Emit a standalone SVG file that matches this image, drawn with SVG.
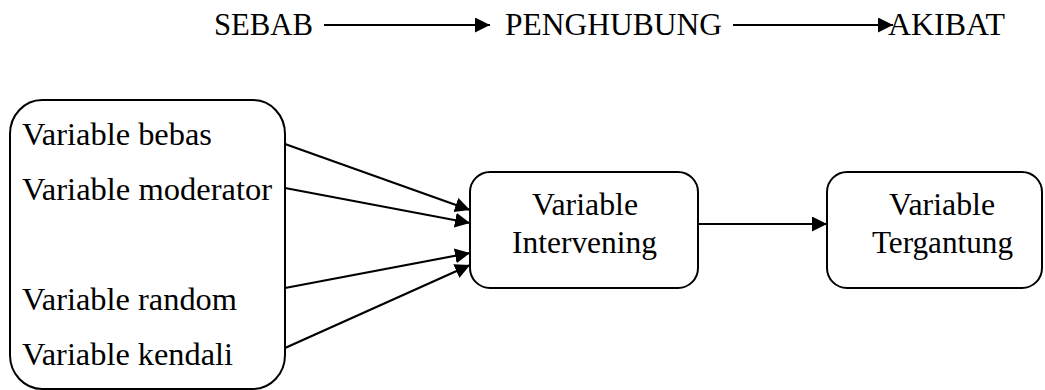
<svg xmlns="http://www.w3.org/2000/svg" width="1045" height="390" viewBox="0 0 1045 390">
<defs>
<style>
.t{font-family:'Liberation Serif','Times New Roman','DejaVu Serif',serif;font-size:31px;fill:#000}
.box{fill:#fff;stroke:#000;stroke-width:2}
.ln{stroke:#000;stroke-width:2.2;fill:none;marker-end:url(#ah)}
.c{text-anchor:middle}
</style>
<marker id="ah" markerUnits="userSpaceOnUse" markerWidth="16" markerHeight="16" viewBox="0 0 16 16" refX="15" refY="7.5" orient="auto">
<path d="M0,0 L15,7.5 L0,15 z" fill="#000"/>
</marker>
</defs>
<g id="header" class="t">
<text x="214" y="35" textLength="99" lengthAdjust="spacingAndGlyphs">SEBAB</text>
<text x="505" y="35" textLength="217" lengthAdjust="spacingAndGlyphs">PENGHUBUNG</text>
<text x="888" y="35" textLength="117" lengthAdjust="spacingAndGlyphs">AKIBAT</text>
</g>
<g id="node-sources" class="t">
<rect class="box" x="10" y="100" width="275" height="289" rx="32" ry="34"/>
<text x="22" y="145" textLength="190" lengthAdjust="spacingAndGlyphs">Variable bebas</text>
<text x="22" y="200" textLength="250" lengthAdjust="spacingAndGlyphs">Variable moderator</text>
<text x="22" y="310" textLength="215" lengthAdjust="spacingAndGlyphs">Variable random</text>
<text x="22" y="365" textLength="211" lengthAdjust="spacingAndGlyphs">Variable kendali</text>
</g>
<g id="node-intervening" class="t">
<rect class="box" x="470" y="172" width="228" height="116" rx="20"/>
<text x="532" y="215" textLength="106" lengthAdjust="spacingAndGlyphs">Variable</text>
<text x="512" y="253" textLength="145" lengthAdjust="spacingAndGlyphs">Intervening</text>
</g>
<g id="node-tergantung" class="t">
<rect class="box" x="827" y="172" width="215" height="116" rx="20"/>
<text x="889" y="215" textLength="106" lengthAdjust="spacingAndGlyphs">Variable</text>
<text x="872" y="253" textLength="141" lengthAdjust="spacingAndGlyphs">Tergantung</text>
</g>
<g id="connectors">
<line class="ln" x1="324" y1="25" x2="490" y2="25"/>
<line class="ln" x1="733" y1="25" x2="893" y2="25"/>
<line class="ln" x1="285" y1="144" x2="470" y2="210"/>
<line class="ln" x1="285" y1="188" x2="470" y2="223"/>
<line class="ln" x1="285" y1="288" x2="470" y2="253"/>
<line class="ln" x1="285" y1="348" x2="470" y2="265"/>
<line class="ln" x1="698" y1="224" x2="827" y2="224"/>
</g>
</svg>
